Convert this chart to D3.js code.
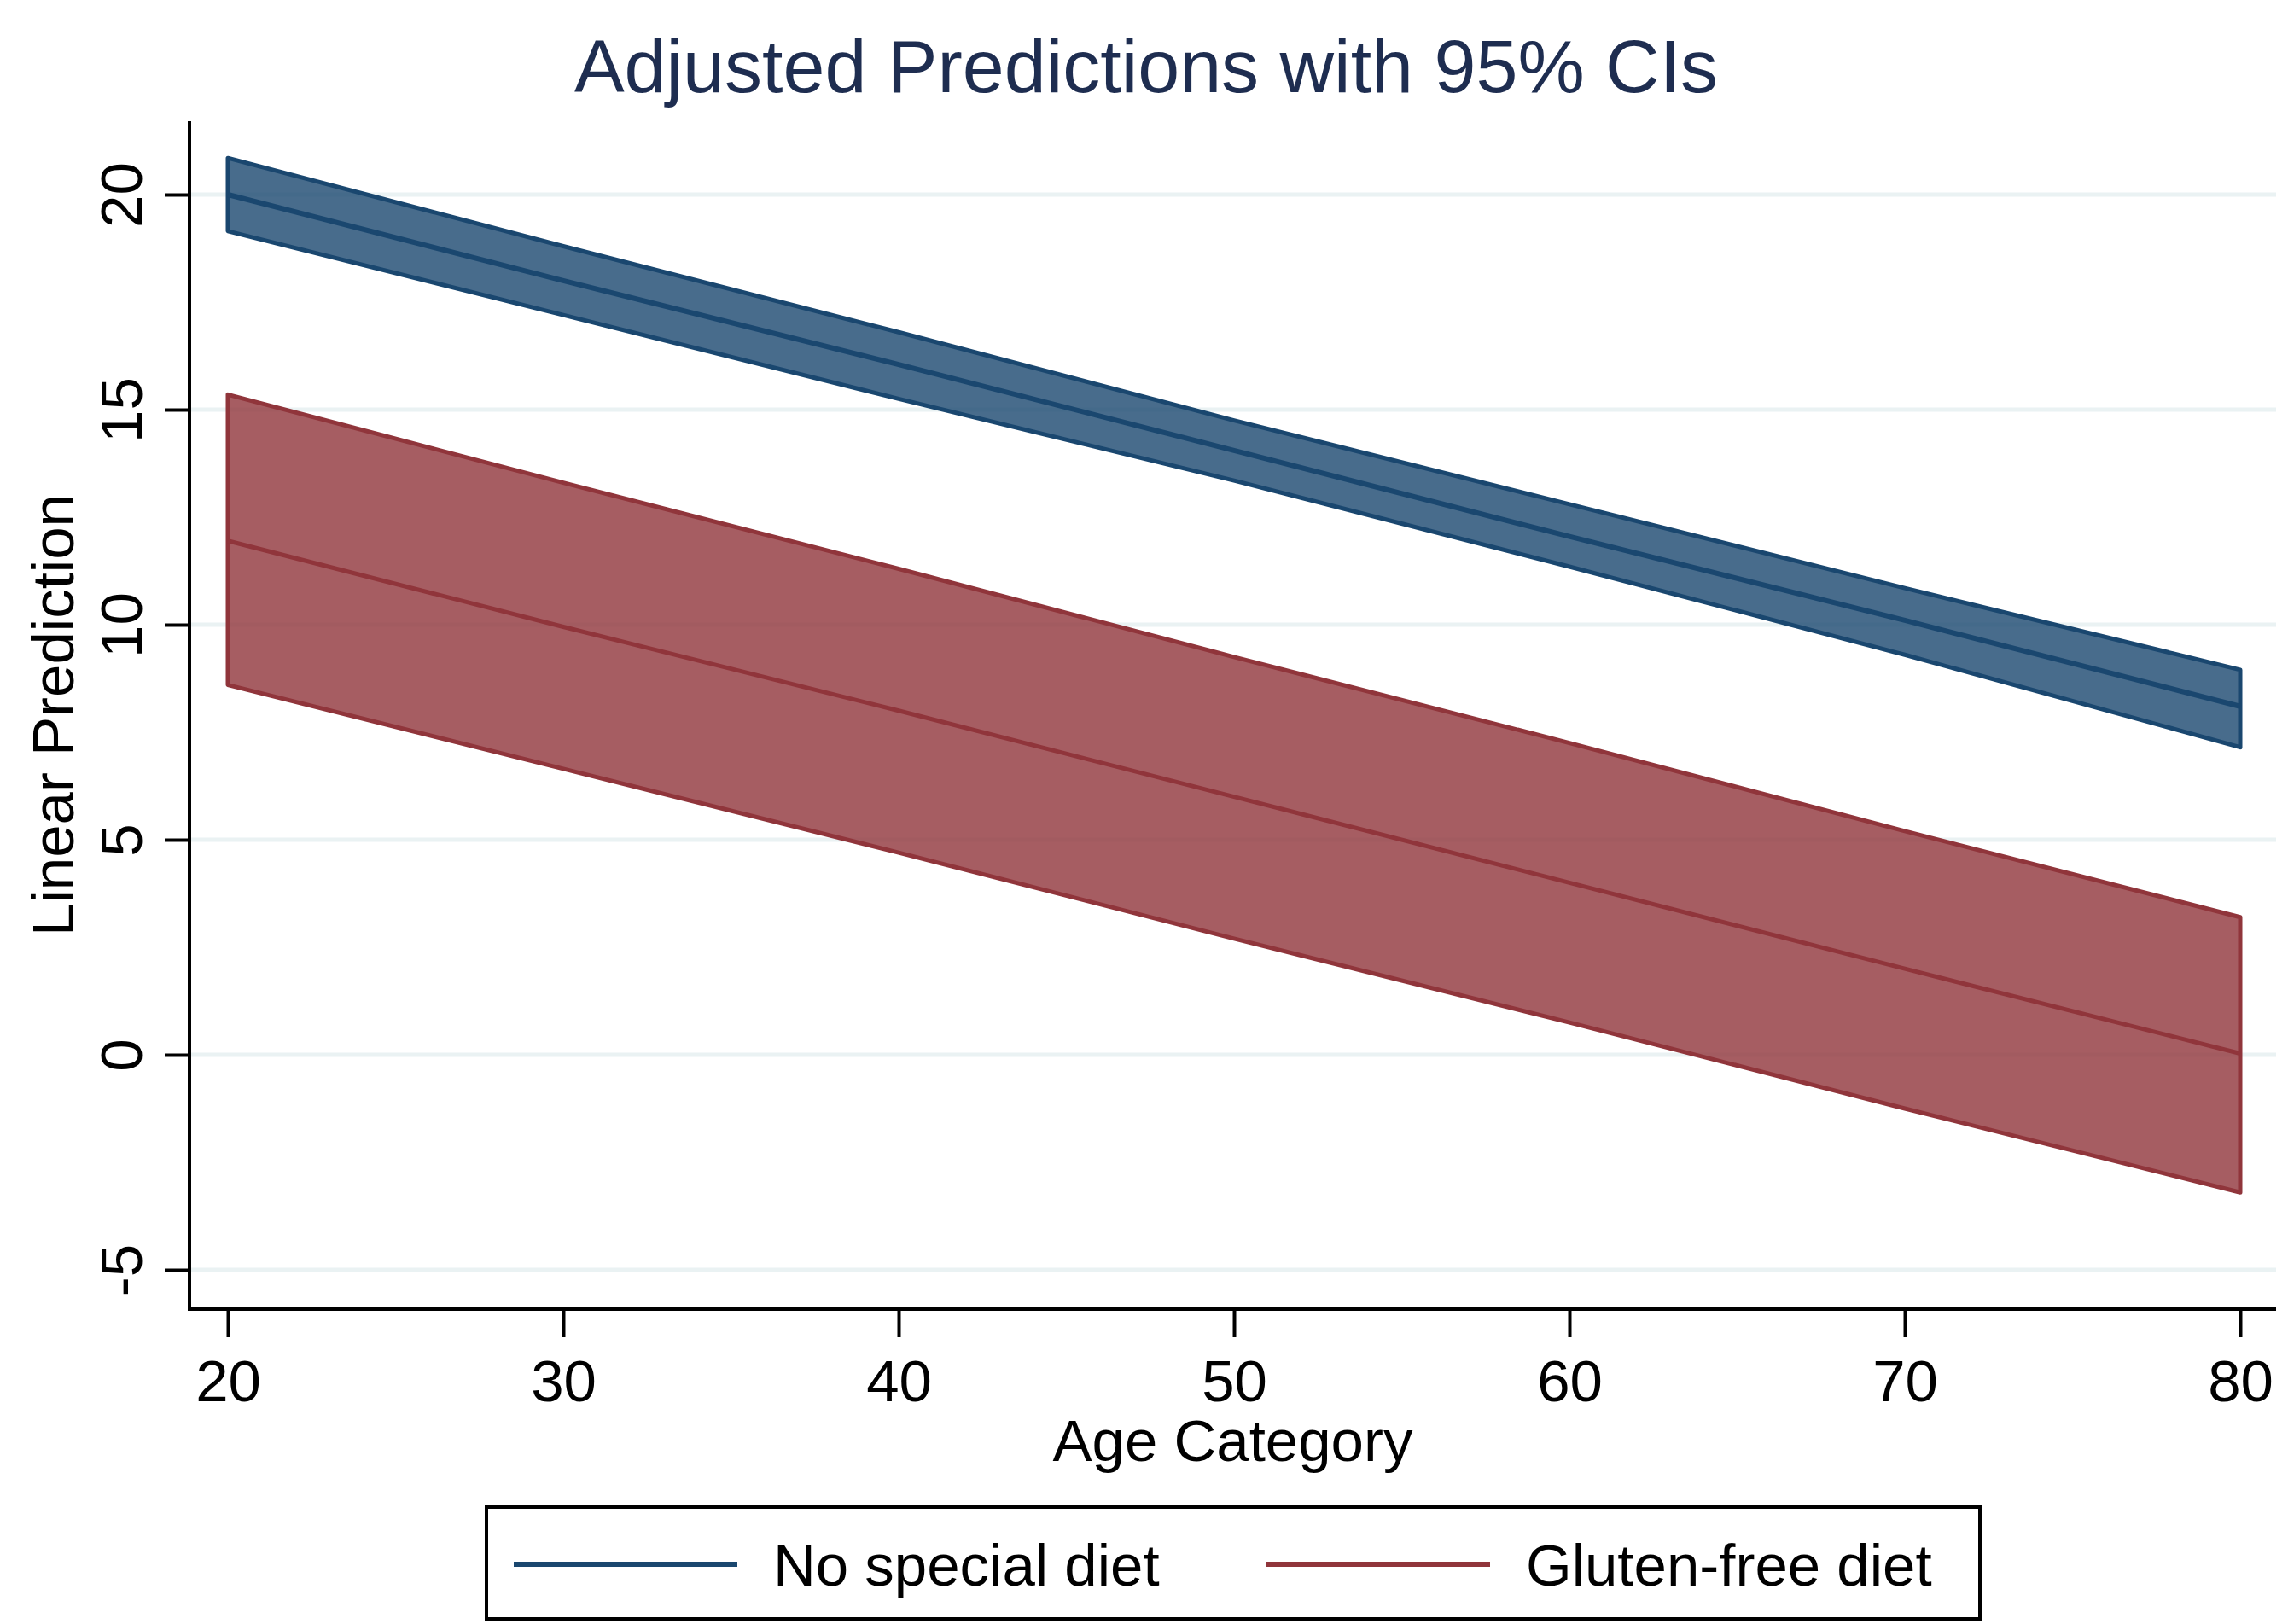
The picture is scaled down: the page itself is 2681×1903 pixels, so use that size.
<!DOCTYPE html>
<html lang="en">
<head>
<meta charset="UTF-8">
<script src="https://cdn.jsdelivr.net/npm/d3@7"></script>
<title>Adjusted Predictions</title>
<style>
    body { margin: 0; background: white; }
    svg { display: block; font-family: "Liberation Sans", Arial, sans-serif; }
</style>
</head>
<body>
<div id="chart"></div>
<script>
    // values
    const ages = [20, 30, 40, 50, 60, 70, 80];

    const noDietFit   = [20.0, 18.0, 16.05, 14.05, 12.05, 10.1, 8.1];
    const noDietUpper = [20.85, 18.8, 16.8, 14.75, 12.8, 10.85, 8.95];
    const noDietLower = [19.15, 17.2, 15.25, 13.35, 11.35, 9.3, 7.15];

    const glutenFit   = [11.95, 9.95, 8.0, 6.0, 4.0, 2.0, 0.03];
    const glutenUpper = [15.35, 13.3, 11.3, 9.25, 7.25, 5.2, 3.2];
    const glutenLower = [8.6, 6.65, 4.7, 2.7, 0.75, -1.25, -3.2];

    const xTicks = [20, 30, 40, 50, 60, 70, 80];
    const yTicks = [-5, 0, 5, 10, 15, 20];

    const seriesNames = ["No special diet", "Gluten-free diet"];

    const W = 2681, H = 1903;
    const plotLeft = 222, plotRight = 2667, plotTop = 142, plotBottom = 1534;

    const navy = "#1a476f", maroon = "#90353b";

    const x = d3.scaleLinear().domain([20, 80]).range([267, 2625]);
    const y = d3.scaleLinear().domain([0, 20]).range([1236, 228]);

    const svg = d3.select("#chart").append("svg")
        .attr("width", W)
        .attr("height", H);

    // gridlines
    svg.append("g")
        .selectAll("line")
        .data(yTicks)
        .enter()
        .append("line")
        .attr("x1", plotLeft)
        .attr("x2", plotRight)
        .attr("y1", d => y(d))
        .attr("y2", d => y(d))
        .attr("stroke", "#eaf2f3")
        .attr("stroke-width", 5);

    const series = [
        { name: seriesNames[0], fit: noDietFit, lo: noDietLower, hi: noDietUpper, color: navy, lw: 6 },
        { name: seriesNames[1], fit: glutenFit, lo: glutenLower, hi: glutenUpper, color: maroon, lw: 5 }
    ];

    const area = d3.area()
        .x(d => x(d.age))
        .y0(d => y(d.lo))
        .y1(d => y(d.hi));

    const line = d3.line()
        .x(d => x(d.age))
        .y(d => y(d.v));

    series.forEach(s => {
        const pts = ages.map((a, i) => ({ age: a, lo: s.lo[i], hi: s.hi[i], v: s.fit[i] }));
        svg.append("path")
            .attr("d", area(pts))
            .attr("fill", s.color)
            .attr("fill-opacity", 0.8)
            .attr("stroke", s.color)
            .attr("stroke-width", 5)
            .attr("stroke-linejoin", "round");
        svg.append("path")
            .attr("d", line(pts))
            .attr("fill", "none")
            .attr("stroke", s.color)
            .attr("stroke-width", s.lw);
    });

    // axes
    const yAxis = svg.append("g")
        .attr("transform", `translate(${plotLeft},0)`)
        .call(d3.axisLeft(y).tickValues(yTicks).tickSize(29).tickFormat(d => String(d)));
    yAxis.select(".domain").remove();
    yAxis.selectAll("line").attr("stroke", "black").attr("stroke-width", 4);
    yAxis.selectAll("text")
        .attr("x", 0)
        .attr("dy", 0)
        .attr("text-anchor", "middle")
        .attr("transform", "translate(-56,0) rotate(-90)")
        .attr("font-size", 69)
        .attr("fill", "black");

    const xAxis = svg.append("g")
        .attr("transform", `translate(0,${plotBottom})`)
        .call(d3.axisBottom(x).tickValues(xTicks).tickSize(33).tickFormat(d => String(d)));
    xAxis.select(".domain").remove();
    xAxis.selectAll("line").attr("stroke", "black").attr("stroke-width", 4);
    xAxis.selectAll("text")
        .attr("y", 108)
        .attr("dy", 0)
        .attr("font-size", 69)
        .attr("fill", "black");

    svg.append("line")
        .attr("x1", plotLeft).attr("x2", plotLeft)
        .attr("y1", plotTop).attr("y2", plotBottom + 2)
        .attr("stroke", "black").attr("stroke-width", 4);
    svg.append("line")
        .attr("x1", plotLeft - 2).attr("x2", plotRight)
        .attr("y1", plotBottom).attr("y2", plotBottom)
        .attr("stroke", "black").attr("stroke-width", 4);

    // titles
    svg.append("text")
        .attr("x", 1343)
        .attr("y", 108)
        .attr("text-anchor", "middle")
        .attr("font-size", 88)
        .attr("fill", "#1e2d50")
        .text("Adjusted Predictions with 95% CIs");

    svg.append("text")
        .attr("x", (plotLeft + plotRight) / 2)
        .attr("y", 1712)
        .attr("text-anchor", "middle")
        .attr("font-size", 69)
        .text("Age Category");

    svg.append("text")
        .attr("transform", `translate(86,${(plotTop + plotBottom) / 2}) rotate(-90)`)
        .attr("text-anchor", "middle")
        .attr("font-size", 69)
        .text("Linear Prediction");

    // legend
    const legend = svg.append("g");
    legend.append("rect")
        .attr("x", 570).attr("y", 1766)
        .attr("width", 1750).attr("height", 131)
        .attr("fill", "white")
        .attr("stroke", "black")
        .attr("stroke-width", 4);

    const legendX = [602, 1484];
    series.forEach((s, i) => {
        legend.append("line")
            .attr("x1", legendX[i]).attr("x2", legendX[i] + 262)
            .attr("y1", 1833).attr("y2", 1833)
            .attr("stroke", s.color)
            .attr("stroke-width", 6);
        legend.append("text")
            .attr("x", legendX[i] + 304)
            .attr("y", 1858)
            .attr("font-size", 69)
            .text(s.name);
    });
</script>
</body>
</html>
